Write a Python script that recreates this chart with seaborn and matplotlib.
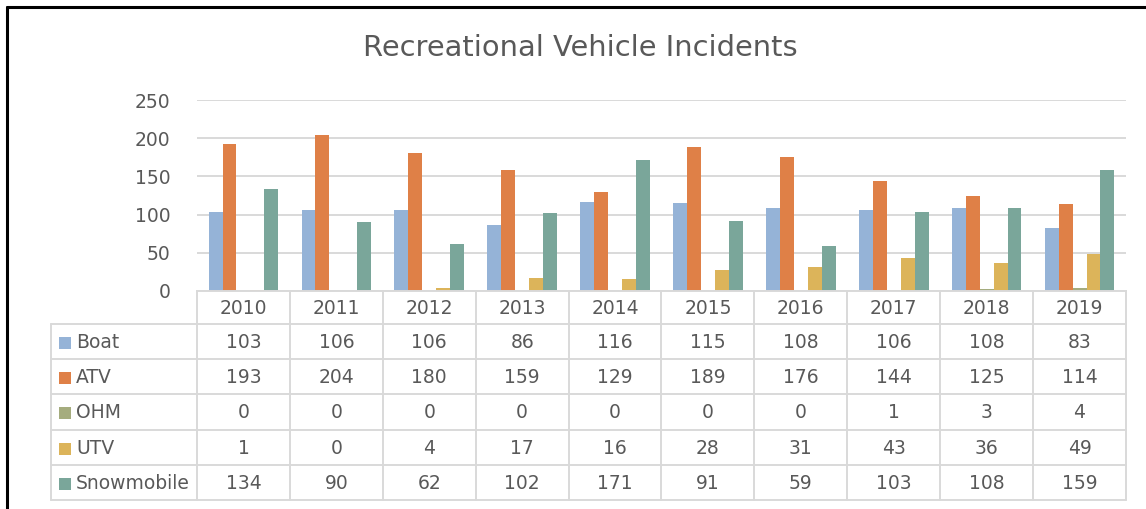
import matplotlib
matplotlib.use("Agg")
import matplotlib.pyplot as plt
from matplotlib.lines import Line2D
from matplotlib.patches import Rectangle
import seaborn as sns
import pandas as pd

years = ["2010", "2011", "2012", "2013", "2014", "2015", "2016", "2017", "2018", "2019"]
series_names = ["Boat", "ATV", "OHM", "UTV", "Snowmobile"]
boat = [103, 106, 106, 86, 116, 115, 108, 106, 108, 83]
atv = [193, 204, 180, 159, 129, 189, 176, 144, 125, 114]
ohm = [0, 0, 0, 0, 0, 0, 0, 1, 3, 4]
utv = [1, 0, 4, 17, 16, 28, 31, 43, 36, 49]
snowmobile = [134, 90, 62, 102, 171, 91, 59, 103, 108, 159]
y_ticks = [0, 50, 100, 150, 200, 250]
title = "Recreational Vehicle Incidents"

colors = ["#95B3D7", "#DF8047", "#A5AC7E", "#DCB45A", "#7AA69A"]
series_values = [boat, atv, ohm, utv, snowmobile]

rows = []
for name, vals in zip(series_names, series_values):
    for yr, v in zip(years, vals):
        rows.append({"year": yr, "vehicle": name, "count": v})
df = pd.DataFrame(rows)

sns.set_style("white")
FONT = ["DejaVu Sans"]
plt.rcParams["font.family"] = FONT
TXT = "#595959"
GRID = "#D9D9D9"
FS = 13.5

W, H = 1146, 509
fig = plt.figure(figsize=(W / 100, H / 100), dpi=100)

def fx(px):
    return px / W

def fy(py):
    return 1 - py / H

plot_l, plot_r, plot_t, plot_b = 197, 1126, 100, 291
ax = fig.add_axes([fx(plot_l), fy(plot_b), fx(plot_r - plot_l), (plot_b - plot_t) / H])
sns.barplot(data=df, x="year", y="count", hue="vehicle", order=years,
            hue_order=series_names, palette=colors, width=0.75, saturation=1,
            linewidth=0, legend=False, ax=ax)
ax.set_xlim(-0.5, len(years) - 0.5)
ax.set_ylim(0, 250)
ax.set_yticks(y_ticks)
ax.yaxis.grid(True, color=GRID, linewidth=1.4)
ax.set_axisbelow(True)
for s in ["left", "right", "top"]:
    ax.spines[s].set_visible(False)
ax.spines["bottom"].set_color(GRID)
ax.spines["bottom"].set_linewidth(1.4)
ax.set_xticks([])
ax.set_xlabel("")
ax.set_ylabel("")
ax.tick_params(axis="y", length=0, pad=19, labelsize=FS, labelcolor=TXT)

fig.text(fx(580), fy(48), title, ha="center", va="center",
         fontsize=20.8, color=TXT)

# data table
tab_l, tab_b = 51, 500
px_per_col = (plot_r - plot_l) / len(years)
tax = fig.add_axes([fx(tab_l), fy(tab_b), fx(plot_r - tab_l), (tab_b - plot_b) / H])
x_left = -0.5 - (plot_l - tab_l) / px_per_col
tax.set_xlim(x_left, len(years) - 0.5)
tax.set_ylim(tab_b, plot_b)
tax.axis("off")

row_edges = [plot_b, 324, 359, 394, 430, 465, 500]
lw = 1.4
for y in row_edges[1:]:
    tax.add_line(Line2D([x_left, len(years) - 0.5], [y, y],
                        color=GRID, lw=lw, clip_on=False))
for j in range(len(years) + 1):
    xv = j - 0.5
    tax.add_line(Line2D([xv, xv], [plot_b, tab_b], color=GRID, lw=lw, clip_on=False))
tax.add_line(Line2D([x_left, x_left], [row_edges[1], tab_b], color=GRID, lw=lw, clip_on=False))

hy = 0.5 * (row_edges[0] + row_edges[1]) + 1
for j, yr in enumerate(years):
    tax.text(j, hy, yr, ha="center", va="center", fontsize=FS, color=TXT)

key_w = 12 / px_per_col
for i, (name, vals, col) in enumerate(zip(series_names, series_values, colors)):
    cy = 0.5 * (row_edges[i + 1] + row_edges[i + 2]) + 1
    tax.add_patch(Rectangle((x_left + 8 / px_per_col, cy - 6), key_w, 12,
                            facecolor=col, edgecolor="none", clip_on=False))
    tax.text(x_left + 25 / px_per_col, cy, name, ha="left", va="center",
             fontsize=FS, color=TXT)
    for j, v in enumerate(vals):
        tax.text(j, cy, str(v), ha="center", va="center", fontsize=FS, color=TXT)

fig.add_artist(Line2D([fx(7), fx(7)], [fy(7), 0], color="black", lw=2.2))
fig.add_artist(Line2D([fx(7), 1], [fy(7), fy(7)], color="black", lw=2.2))

fig.savefig("out.png", dpi=100)
